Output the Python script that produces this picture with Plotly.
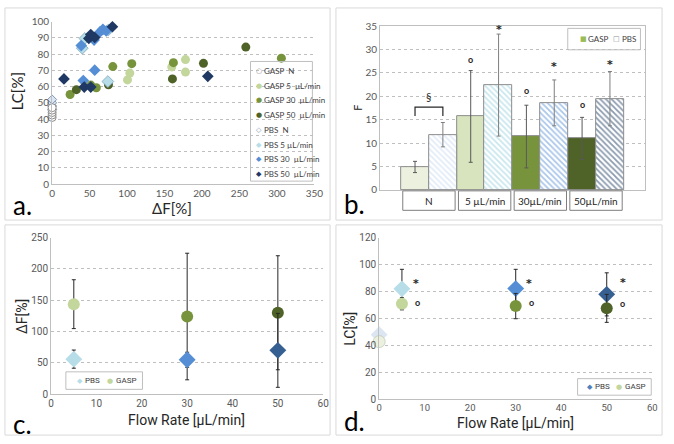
import numpy as np
import plotly.graph_objects as go

W, H = 674, 444
def px(x): return x / W
def py(y): return 1 - y / H

# ---------------- Panel a data (ΔF[%], LC[%]) ----------------
gaspN_x = [0, 0, 0, 0, 0]
gaspN_y = [41, 42.5, 44, 45.5, 47]
gasp5_x = [100.6, 103.7, 159.7, 178, 178]
gasp5_y = [64.1, 68.3, 72.1, 76.6, 68.9]
gasp30_x = [24, 51.6, 59, 81, 106.3, 161.9, 306]
gasp30_y = [55.1, 60.9, 59.3, 72.3, 74.1, 74.7, 77.5]
gasp50_x = [32.4, 75.2, 160.6, 202, 258.5]
gasp50_y = [58.1, 61.1, 64.7, 74.3, 84.3]
pbsN_x = [0, 0, 0, 0]
pbsN_y = [46, 48, 50, 52]
pbs5_x = [40.3, 43.7, 74.4, 75]
pbs5_y = [83.6, 89.6, 63.1, 94.8]
pbs30_x = [38.9, 41.6, 56, 56.9, 63.9, 67.8, 72.2]
pbs30_y = [85.2, 63.7, 88.6, 70.1, 93.6, 95.2, 94.2]
pbs50_x = [15.8, 42.9, 49, 51.6, 51.6, 56.9, 80.5, 207.8]
pbs50_y = [64.7, 59.7, 89.6, 92, 59.7, 90.2, 96.8, 66.3]

# ---------------- Panel b data (F) ----------------
b_cats = ["N", "5 µL/min", "30µL/min", "50µL/min"]
b_gasp = [4.9, 15.7, 11.4, 11.0]
b_gasp_err = [1.2, 9.8, 6.7, 4.5]
b_pbs = [11.8, 22.4, 18.6, 19.5]
b_pbs_err = [2.6, 10.9, 4.9, 5.8]
b_gasp_marks_y = [None, 27.5, 20.8, 17.8]
b_pbs_marks_y = [None, 34.3, 26.5, 26.8]

# ---------------- Panel c data (ΔF vs flow rate) ----------------
c_flow = [5, 30, 50]
c_pbs = [56, 55, 70]
c_pbs_err = [14.5, 12, 59]
c_gasp = [143.7, 124, 130]
c_gasp_err = [39, 101, 91]

# ---------------- Panel d data (LC vs flow rate) ----------------
d_flow = [0, 5, 30, 50]
d_pbs = [47.8, 81.9, 82.1, 77.8]
d_pbs_err = [0, 14.5, 14.3, 16]
d_gasp = [42.7, 70.8, 69.1, 67.4]
d_gasp_err = [0, 4.5, 9.4, 10.4]
d_star_x = [8.1, 33, 53.6]
d_star_y = [86.7, 87, 87.4]
d_circ_x = [8.4, 33.4, 53.5]
d_circ_y = [71, 71.2, 70.8]

# colours
C_GN, C_G5, C_G30, C_G50 = "#ebf1de", "#c3d69b", "#77933c", "#4f6228"
C_PN, C_P5, C_P30, C_P50 = "#dce6f2", "#b7dee8", "#558ed5", "#1f3864"
C_P50c = "#376092"
GRID = "#bfbfbf"
TICK = "#595959"
FA = "Lato"
FC = "Roboto"

fig = go.Figure()

# ---------- Panel a ----------
def sc(x, y, sym, color, line="rgba(0,0,0,0)", size=8):
    fig.add_trace(go.Scatter(x=x, y=y, mode="markers", xaxis="x", yaxis="y",
                             cliponaxis=False, showlegend=False,
                             marker=dict(symbol=sym, size=size, color=color,
                                         line=dict(color=line, width=1))))

sc(pbsN_x, pbsN_y, "diamond", C_PN, "#8497b0", 7)
sc(gaspN_x, gaspN_y, "circle", "white", "#8c8c8c", 8)
sc(gasp5_x, gasp5_y, "circle", C_G5, size=9)
sc(gasp30_x, gasp30_y, "circle", C_G30, size=9)
sc(gasp50_x, gasp50_y, "circle", C_G50, size=9)
sc(pbs5_x, pbs5_y, "diamond", C_P5, "#8eb4c8", 9)
sc(pbs30_x, pbs30_y, "diamond", C_P30, size=9)
sc(pbs50_x, pbs50_y, "diamond", C_P50, size=9)

# ---------- Panel b ----------
idx = np.arange(len(b_cats))
fig.add_trace(go.Bar(x=idx - 0.25, y=b_gasp, width=0.5, xaxis="x2", yaxis="y2",
                     showlegend=False,
                     marker=dict(color=[C_GN, "#d7e4bd", C_G30, C_G50],
                                 line=dict(color="#8c8c8c", width=1)),
                     error_y=dict(type="data", array=b_gasp_err, color="#595959",
                                  thickness=1, width=2)))
fig.add_trace(go.Bar(x=idx + 0.25, y=b_pbs, width=0.5, xaxis="x2", yaxis="y2",
                     showlegend=False,
                     marker=dict(color="white",
                                 line=dict(color="#8c8c8c", width=1),
                                 pattern=dict(shape="\\",
                                              fgcolor=["#c6d9f1", "#93cddd", "#558ed5", "#17375e"],
                                              bgcolor="white", size=4, solidity=0.45)),
                     error_y=dict(type="data", array=b_pbs_err, color="#7f7f7f",
                                  thickness=1, width=2)))

# ---------- Panel c ----------
fig.add_trace(go.Scatter(x=c_flow, y=c_gasp, mode="markers", xaxis="x3", yaxis="y3",
                         showlegend=False, cliponaxis=False,
                         marker=dict(symbol="circle", size=12, color=[C_G5, C_G30, C_G50]),
                         error_y=dict(type="data", array=c_gasp_err, color="#262626",
                                      thickness=1, width=2)))
fig.add_trace(go.Scatter(x=c_flow, y=c_pbs, mode="markers", xaxis="x3", yaxis="y3",
                         showlegend=False, cliponaxis=False,
                         marker=dict(symbol="diamond", size=13, color=[C_P5, C_P30, C_P50c]),
                         error_y=dict(type="data", array=c_pbs_err, color="#262626",
                                      thickness=1, width=2)))

# ---------- Panel d ----------
fig.add_trace(go.Scatter(x=d_flow, y=d_pbs, mode="markers", xaxis="x4", yaxis="y4",
                         showlegend=False, cliponaxis=False,
                         marker=dict(symbol="diamond", size=13, color=[C_PN, C_P5, C_P30, C_P50c]),
                         error_y=dict(type="data", array=d_pbs_err, color="#262626",
                                      thickness=1, width=2)))
fig.add_trace(go.Scatter(x=d_flow, y=d_gasp, mode="markers", xaxis="x4", yaxis="y4",
                         showlegend=False, cliponaxis=False,
                         marker=dict(symbol="circle", size=12, color=[C_GN, C_G5, C_G30, C_G50],
                                     line=dict(color="rgba(180,190,170,0.6)", width=[1, 0, 0, 0])),
                         error_y=dict(type="data", array=d_gasp_err, color="#262626",
                                      thickness=1, width=2)))

# ---------- axes ----------
def ax(domain, rng, dtick, anchor, font, grid=False, showticklabels=True, mirror=False, fs=10):
    return dict(domain=domain, range=rng, dtick=dtick, anchor=anchor,
                showline=True, linecolor=GRID, linewidth=1, mirror=mirror,
                showgrid=grid, gridcolor=GRID, griddash="dot", gridwidth=1,
                zeroline=False, ticks="", showticklabels=showticklabels,
                tickfont=dict(family=font, size=fs, color=TICK), fixedrange=True)

b_lo = -0.876
b_hi = b_lo + 270 / 56.7
fig.update_layout(
    width=W, height=H, margin=dict(l=0, r=0, t=0, b=0),
    paper_bgcolor="white", plot_bgcolor="white",
    xaxis=ax([px(50), px(317)], [0, 350], 50, "y", FA),
    yaxis=ax([py(183), py(16)], [0, 100], 10, "x", FA, grid=True),
    xaxis2=ax([px(384), px(654)], [b_lo, b_hi], 1, "y2", FA, showticklabels=False, mirror=True),
    yaxis2=ax([py(189), py(20.7)], [0, 35], 5, "x2", FA, grid=True, mirror=True),
    xaxis3=ax([px(49), px(326)], [0, 60], 10, "y3", FC),
    yaxis3=ax([py(399), py(238)], [0, 250], 50, "x3", FC, grid=True),
    xaxis4=ax([px(383), px(661)], [0, 60], 10, "y4", FC, fs=9.5),
    yaxis4=ax([py(404), py(238)], [0, 120], 20, "x4", FC, grid=True),
    bargap=0,
)

shapes = []
annos = []

def box(x0, y0, x1, y1, color="#d9d9d9", width=1, fill=None):
    shapes.append(dict(type="rect", xref="paper", yref="paper",
                       x0=px(x0), x1=px(x1), y0=py(y1), y1=py(y0),
                       line=dict(color=color, width=width),
                       fillcolor=fill or "rgba(0,0,0,0)", layer="above"))

def txt(x, y, text, size=10, font=FA, color="#262626", xanchor="center",
        yanchor="middle", angle=0):
    annos.append(dict(x=px(x), y=py(y), xref="paper", yref="paper", text=text,
                      showarrow=False, xanchor=xanchor, yanchor=yanchor,
                      textangle=angle, font=dict(family=font, size=size, color=color)))

# panel borders
box(2, 2, 333, 220)
box(339, 2, 671, 220)
box(2, 225, 333, 441)
box(339, 225, 671, 441)

# panel labels
txt(8, 205, "a.", 26, FA, "#000000", "left")
txt(345, 203, "b.", 26, FA, "#000000", "left")
txt(8, 430, "c.", 26, FA, "#000000", "left")
txt(345, 427, "d.", 26, FA, "#000000", "left")

# axis titles
txt(14, 88, "LC[%]", 15, FA, "#262626", angle=-90)
txt(172, 208, "ΔF[%]", 15, FA, "#262626")
txt(361, 105, "F", 11, FA, "#262626", angle=-90)
txt(20, 319, "ΔF[%]", 14, FC, "#262626", angle=-90)
txt(187, 425, "Flow Rate [µL/min]", 14, FC, "#262626")
txt(353, 332, "LC[%]", 14, FC, "#262626", angle=-90)
txt(522, 429, "Flow Rate [µL/min]", 14, FC, "#262626")

# panel a legend
box(252, 57, 315, 180, "#bfbfbf")
leg_a = [("○", "#8c8c8c", "GASP  N"), ("●", C_G5, "GASP 5  µL/min"),
         ("●", C_G30, "GASP 30  µL/min"), ("●", C_G50, "GASP 50  µL/min"),
         ("◇", "#8497b0", "PBS  N"), ("◆", C_P5, "PBS 5 µL/min"),
         ("◆", C_P30, "PBS 30  µL/min"), ("◆", C_P50, "PBS 50  µL/min")]
for i, (sym, col, name) in enumerate(leg_a):
    yy = 66.7 + i * 15.15
    txt(256, yy, sym, 7, "DejaVu Sans", col, "left")
    txt(264, yy, name, 8, FA, "#404040", "left")

# panel b legend
box(575, 23, 649, 45, "#bfbfbf")
txt(585, 34, "■", 7, "DejaVu Sans", "#9bbb59", "left")
txt(594, 34, "GASP", 8, FA, "#404040", "left")
txt(619, 34, "□", 7, "DejaVu Sans", "#8c8c8c", "left")
txt(628, 34, "PBS", 8, FA, "#404040", "left")

# panel b category boxes
for i, cat in enumerate(b_cats):
    shapes.append(dict(type="rect", xref="x2", yref="paper", x0=i - 0.47, x1=i + 0.47,
                       y0=py(210), y1=py(190), line=dict(color="#7f7f7f", width=1),
                       fillcolor="white"))
    annos.append(dict(x=i, y=py(200), xref="x2", yref="paper", text=cat, showarrow=False,
                      font=dict(family=FA, size=10, color="#262626")))

# panel b significance marks
top_n = max(b_gasp[0] + b_gasp_err[0], b_pbs[0] + b_pbs_err[0])
br_y = top_n + 3.3
shapes.append(dict(type="path", xref="x2", yref="y2",
                   path=f"M -0.25 {br_y - 1.9} L -0.25 {br_y} L 0.25 {br_y} L 0.25 {br_y - 1.9}",
                   line=dict(color="#262626", width=1.2)))
annos.append(dict(x=0, y=br_y + 2.2, xref="x2", yref="y2", text="§", showarrow=False,
                  font=dict(family=FA, size=11, color="#262626")))
for i in range(len(b_cats)):
    if b_gasp_marks_y[i] is not None:
        annos.append(dict(x=i - 0.25, y=b_gasp_marks_y[i] + 0.4, xref="x2", yref="y2",
                          text="<b>o</b>", showarrow=False,
                          font=dict(family=FA, size=9, color="#262626")))
    if b_pbs_marks_y[i] is not None:
        annos.append(dict(x=i + 0.25, y=b_pbs_marks_y[i] - 0.1, xref="x2", yref="y2",
                          text="<b>*</b>", showarrow=False,
                          font=dict(family="DejaVu Sans", size=11, color="#262626")))

# panel c legend
box(64, 376, 142, 394, "#bfbfbf")
txt(73, 385, "◆", 7, "DejaVu Sans", C_P5, "left")
txt(81, 385, "PBS", 8, FC, "#404040", "left")
txt(104, 385, "●", 7, "DejaVu Sans", C_G5, "left")
txt(113, 385, "GASP", 8, FC, "#404040", "left")

# panel d legend
box(585, 383, 660, 400, "#bfbfbf")
txt(593, 391.5, "◆", 7, "DejaVu Sans", "#4f81bd", "left")
txt(601, 391.5, "PBS", 8, FC, "#404040", "left")
txt(622, 391.5, "●", 7, "DejaVu Sans", C_G5, "left")
txt(631, 391.5, "GASP", 8, FC, "#404040", "left")

# panel d significance marks
for xs, ys in zip(d_star_x, d_star_y):
    annos.append(dict(x=xs, y=ys - 1.0, xref="x4", yref="y4", text="<b>*</b>", showarrow=False,
                      font=dict(family="DejaVu Sans", size=11, color="#262626")))
for xs, ys in zip(d_circ_x, d_circ_y):
    annos.append(dict(x=xs, y=ys + 0.5, xref="x4", yref="y4", text="<b>o</b>", showarrow=False,
                      font=dict(family=FA, size=9, color="#262626")))

fig.update_layout(shapes=shapes, annotations=annos)
fig.write_html("out.html")
